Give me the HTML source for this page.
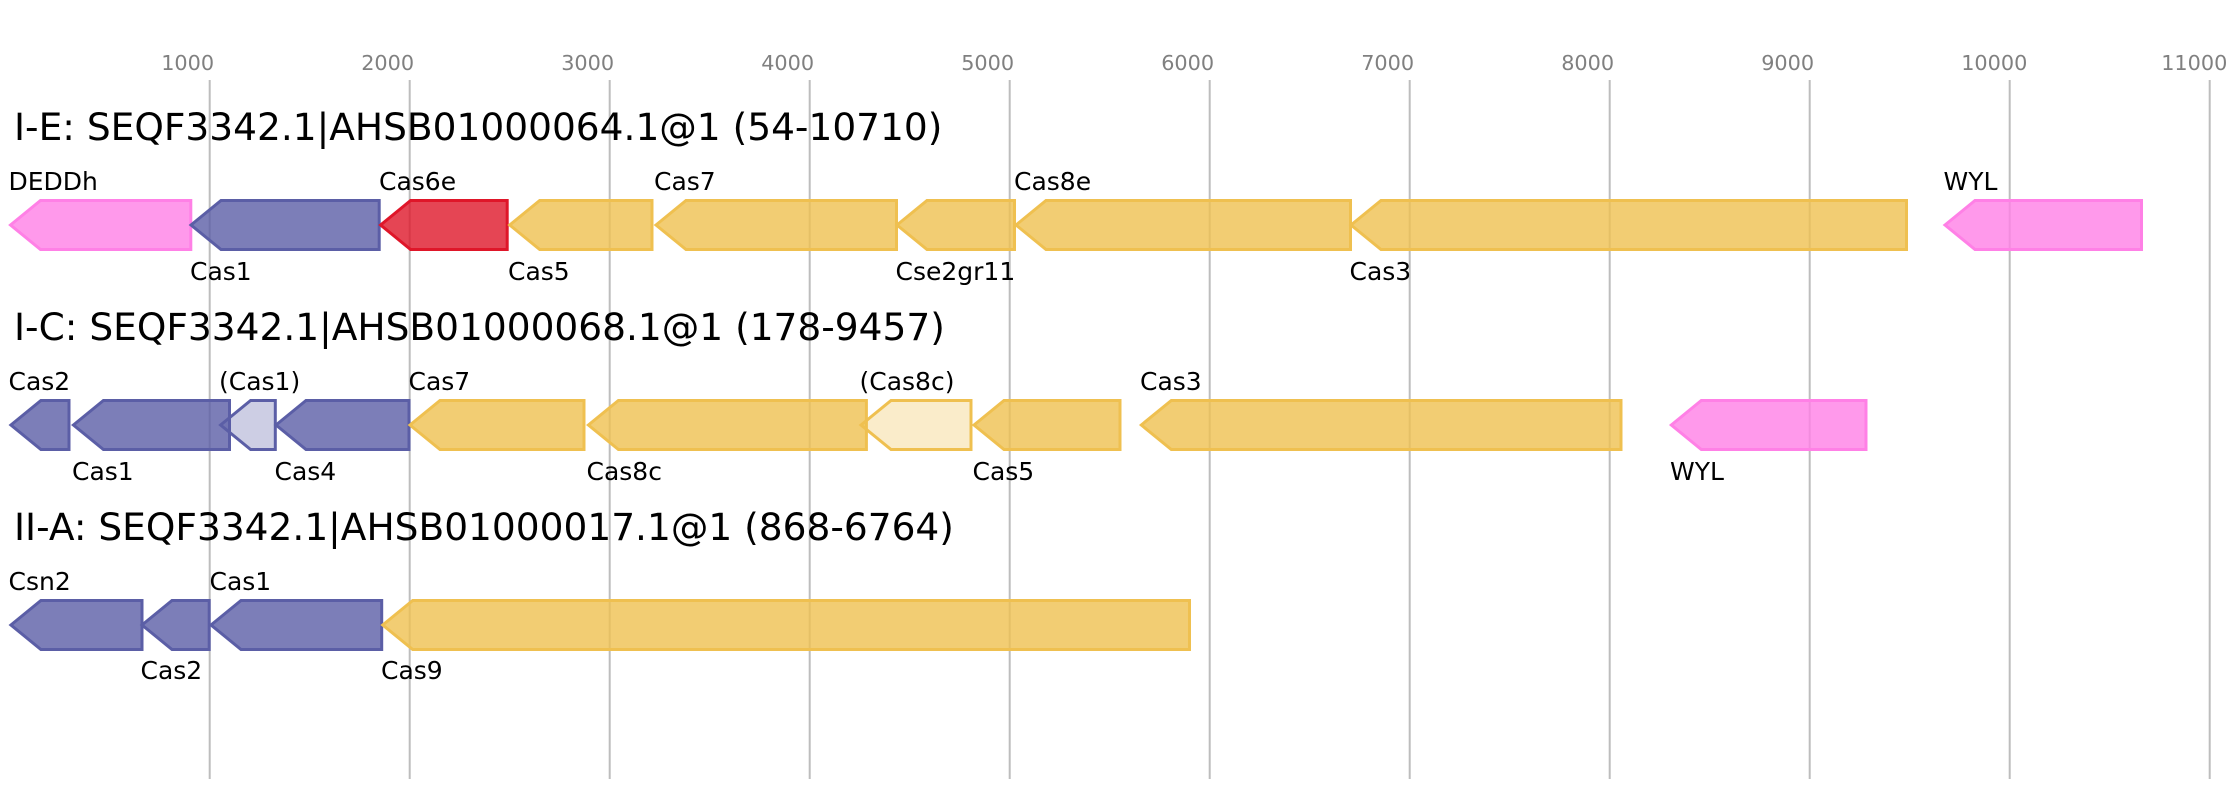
<!DOCTYPE html>
<html>
<head>
<meta charset="utf-8">
<style>
html,body{margin:0;padding:0;background:#fff;}
svg{display:block;}
.tick{font-family:"DejaVu Sans","Liberation Sans",sans-serif;font-size:20.8px;fill:#808080;}
.title{font-family:"DejaVu Sans","Liberation Sans",sans-serif;font-size:37.5px;fill:#000;}
.lbl{font-family:"DejaVu Sans","Liberation Sans",sans-serif;font-size:25px;fill:#000;}
.grid{stroke:#bdbdbd;stroke-width:2;}
.b{fill:#5B5EA6;fill-opacity:0.8;stroke:#5B5EA6;stroke-width:3;}
.bl{fill:#5B5EA6;fill-opacity:0.3;stroke:#5B5EA6;stroke-width:3;}
.y{fill:#EFC050;fill-opacity:0.8;stroke:#EFC050;stroke-width:3;}
.yl{fill:#EFC050;fill-opacity:0.3;stroke:#EFC050;stroke-width:3;}
.p{fill:#FF80E6;fill-opacity:0.8;stroke:#FF80E6;stroke-width:3;}
.r{fill:#DF1629;fill-opacity:0.8;stroke:#DF1629;stroke-width:3;}
</style>
</head>
<body>
<svg width="2231" height="800" viewBox="0 0 2231 800" xmlns="http://www.w3.org/2000/svg">
<rect width="2231" height="800" fill="#fff"/>
<!-- grid -->
<g class="grid">
<line x1="209.7" y1="80" x2="209.7" y2="779"/>
<line x1="409.7" y1="80" x2="409.7" y2="779"/>
<line x1="609.7" y1="80" x2="609.7" y2="779"/>
<line x1="809.7" y1="80" x2="809.7" y2="779"/>
<line x1="1009.7" y1="80" x2="1009.7" y2="779"/>
<line x1="1209.7" y1="80" x2="1209.7" y2="779"/>
<line x1="1409.7" y1="80" x2="1409.7" y2="779"/>
<line x1="1609.7" y1="80" x2="1609.7" y2="779"/>
<line x1="1809.7" y1="80" x2="1809.7" y2="779"/>
<line x1="2009.7" y1="80" x2="2009.7" y2="779"/>
<line x1="2209.7" y1="80" x2="2209.7" y2="779"/>
</g>
<g class="tick">
<text x="161.2" y="70">1000</text>
<text x="361.2" y="70">2000</text>
<text x="561.2" y="70">3000</text>
<text x="761.2" y="70">4000</text>
<text x="961.2" y="70">5000</text>
<text x="1161.2" y="70">6000</text>
<text x="1361.2" y="70">7000</text>
<text x="1561.2" y="70">8000</text>
<text x="1761.2" y="70">9000</text>
<text x="1961.2" y="70">10000</text>
<text x="2161.2" y="70">11000</text>
</g>

<!-- Row 1 -->
<text class="title" x="14" y="140">I-E: SEQF3342.1|AHSB01000064.1@1 (54-10710)</text>
<polygon class="p" points="10.5,225 40.5,200.5 190.8,200.5 190.8,249.5 40.5,249.5"/>
<polygon class="b" points="191,225 221,200.5 379.2,200.5 379.2,249.5 221,249.5"/>
<polygon class="r" points="380.6,225 410.6,200.5 507.2,200.5 507.2,249.5 410.6,249.5"/>
<polygon class="y" points="509.7,225 539.7,200.5 652,200.5 652,249.5 539.7,249.5"/>
<polygon class="y" points="656,225 686,200.5 896.5,200.5 896.5,249.5 686,249.5"/>
<polygon class="y" points="897,225 927,200.5 1014.5,200.5 1014.5,249.5 927,249.5"/>
<polygon class="y" points="1016,225 1046,200.5 1350.5,200.5 1350.5,249.5 1046,249.5"/>
<polygon class="y" points="1351,225 1381,200.5 1906.5,200.5 1906.5,249.5 1381,249.5"/>
<polygon class="p" points="1945,225 1975,200.5 2141.5,200.5 2141.5,249.5 1975,249.5"/>
<g class="lbl">
<text x="8.5" y="190">DEDDh</text>
<text x="190" y="280">Cas1</text>
<text x="379" y="190">Cas6e</text>
<text x="508" y="280">Cas5</text>
<text x="654" y="190">Cas7</text>
<text x="895.5" y="280">Cse2gr11</text>
<text x="1014" y="190">Cas8e</text>
<text x="1349.5" y="280">Cas3</text>
<text x="1943.5" y="190">WYL</text>
</g>

<!-- Row 2 -->
<text class="title" x="14" y="340">I-C: SEQF3342.1|AHSB01000068.1@1 (178-9457)</text>
<polygon class="b" points="10.9,425 40.9,400.5 69,400.5 69,449.5 40.9,449.5"/>
<polygon class="b" points="73.4,425 103.4,400.5 229.5,400.5 229.5,449.5 103.4,449.5"/>
<polygon class="bl" points="220.6,425 250.6,400.5 275.3,400.5 275.3,449.5 250.6,449.5"/>
<polygon class="b" points="276,425 306,400.5 409,400.5 409,449.5 306,449.5"/>
<polygon class="y" points="410,425 440,400.5 584,400.5 584,449.5 440,449.5"/>
<polygon class="y" points="588.4,425 618.4,400.5 866.4,400.5 866.4,449.5 618.4,449.5"/>
<polygon class="yl" points="861,425 891,400.5 971,400.5 971,449.5 891,449.5"/>
<polygon class="y" points="974,425 1004,400.5 1120,400.5 1120,449.5 1004,449.5"/>
<polygon class="y" points="1141.3,425 1171.3,400.5 1621,400.5 1621,449.5 1171.3,449.5"/>
<polygon class="p" points="1671.3,425 1701.3,400.5 1866,400.5 1866,449.5 1701.3,449.5"/>
<g class="lbl">
<text x="8.5" y="390">Cas2</text>
<text x="72" y="480">Cas1</text>
<text x="219" y="390">(Cas1)</text>
<text x="274.5" y="480">Cas4</text>
<text x="408.5" y="390">Cas7</text>
<text x="586.5" y="480">Cas8c</text>
<text x="859.5" y="390">(Cas8c)</text>
<text x="972.5" y="480">Cas5</text>
<text x="1140" y="390">Cas3</text>
<text x="1670" y="480">WYL</text>
</g>

<!-- Row 3 -->
<text class="title" x="14" y="540">II-A: SEQF3342.1|AHSB01000017.1@1 (868-6764)</text>
<polygon class="b" points="10.9,625 40.9,600.5 142,600.5 142,649.5 40.9,649.5"/>
<polygon class="b" points="142,625 172,600.5 209.2,600.5 209.2,649.5 172,649.5"/>
<polygon class="b" points="211,625 241,600.5 381.7,600.5 381.7,649.5 241,649.5"/>
<polygon class="y" points="382.7,625 412.7,600.5 1189.5,600.5 1189.5,649.5 412.7,649.5"/>
<g class="lbl">
<text x="8.5" y="590">Csn2</text>
<text x="140.5" y="679">Cas2</text>
<text x="209.5" y="590">Cas1</text>
<text x="381" y="679">Cas9</text>
</g>
</svg>
</body>
</html>
